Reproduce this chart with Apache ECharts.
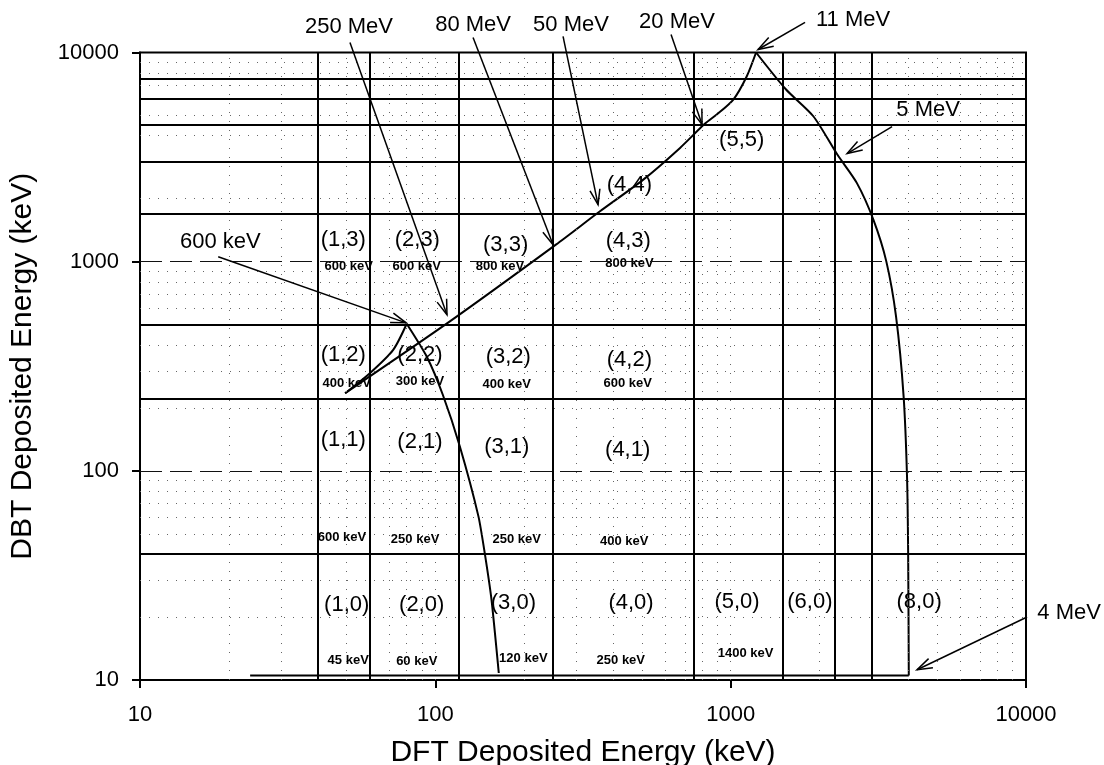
<!DOCTYPE html>
<html>
<head>
<meta charset="utf-8">
<script src="https://cdn.jsdelivr.net/npm/echarts@6/dist/echarts.min.js"></script>
<style>
html,body{margin:0;padding:0;background:#fff;}
#c{width:1104px;height:765px;}
</style>
</head>
<body>
<div id="c"></div>
<script>
// ---------- axis text ----------
const xTickLabels = ['10', '100', '1000', '10000'];
const yTickLabels = ['10', '100', '1000', '10000'];
const xAxisTitle = 'DFT Deposited Energy (keV)';
const yAxisTitle = 'DBT Deposited Energy (keV)';

// ---------- bin boundaries / grid lines (keV) ----------
const binEdgesX = [40, 60, 120, 250, 750, 1500, 2250, 3000];
const binEdgesY = [40, 220, 500, 1700, 3000, 4500, 6000, 7500];
const decadeLinesY = [100, 1000];
const minorLinesX = [20, 30, 50, 70, 80, 90, 100, 200, 300, 400, 500, 600, 700, 800, 900, 1000, 2000, 4000, 5000, 6000, 7000, 8000, 9000];
const minorLinesY = [20, 30, 50, 60, 70, 80, 90, 200, 300, 400, 600, 700, 800, 900, 2000, 4000, 5000, 7000, 8000, 9000];

// ---------- curves (DFT keV, DBT keV) ----------
// high-energy track: rising branch up to the 11 MeV turning point
const riseX = [49.5, 112, 256, 361, 506, 674, 819, 897, 1021, 1134, 1219];
const riseY = [235, 518, 1206, 1741, 2467, 3499, 4571, 5050, 5957, 7701, 10000];
// falling branch from 11 MeV down to 4 MeV
const fallX = [1219, 1540, 1905, 2297, 2673, 3042, 3365, 3630, 3851, 3956, 3990, 4010];
const fallY = [10000, 6653, 4957, 3251, 2381, 1588, 1003, 547, 227, 92.6, 40, 10.5];
// low-energy branch up to the 600 keV turning point, then down
const lowUpX = [49.5, 60, 72, 80];
const lowUpY = [235, 293, 379, 505];
const lowDownX = [80, 93.5, 106, 121, 140, 147, 155, 164];
const lowDownY = [505, 352, 231, 131, 60.4, 40.4, 24.1, 10.8];
const floorX = [23.6, 4010];
const floorY = [10.5, 10.5];

// ---------- cell names ----------
const cellNames = ['(1,3)', '(2,3)', '(3,3)', '(4,3)', '(1,2)', '(2,2)', '(3,2)', '(4,2)', '(1,1)', '(2,1)', '(3,1)', '(4,1)', '(1,0)', '(2,0)', '(3,0)', '(4,0)', '(5,0)', '(6,0)', '(8,0)', '(5,5)', '(4,4)'];
const cellX = [48.8, 86.9, 173, 450, 48.8, 88.7, 176.6, 454, 48.8, 88.7, 174.5, 448, 50.1, 89.9, 183.7, 460, 1051, 1854, 4345, 1090, 454];
const cellY = [1274, 1274, 1206, 1251, 359, 359, 352, 340, 140.7, 138.1, 130.7, 126, 22.85, 22.85, 23.3, 23.4, 23.7, 23.7, 23.7, 3834, 2336];

// ---------- cell thresholds ----------
const thresholdText = ['600 keV', '600 keV', '800 keV', '800 keV', '400 keV', '300 keV', '400 keV', '600 keV', '600 keV', '250 keV', '250 keV', '400 keV', '45 keV', '60 keV', '120 keV', '250 keV', '1400 keV'];
const thresholdX = [50.9, 86.5, 165.6, 454, 50.1, 88.7, 174.5, 448, 48.3, 85.4, 188.7, 436, 50.7, 86.5, 198.6, 424.6, 1124];
const thresholdY = [949.5, 949.5, 949.5, 985.8, 262.8, 267.5, 257.9, 262.8, 48.2, 46.8, 46.8, 45.9, 12.46, 12.24, 12.7, 12.46, 13.4];

// ---------- callouts (label position, arrow start, arrow tip) ----------
const calloutText = ['250 MeV', '80 MeV', '50 MeV', '20 MeV', '11 MeV', '5 MeV', '4 MeV', '600 keV'];
const calloutLabelX = [51.0, 134.2, 288, 658, 2597, 4662, 13996, 18.7];
const calloutLabelY = [13315, 13610, 13610, 14060, 14380, 5335, 20.9, 1247];
const calloutFromX = [51.4, 134.2, 270.7, 628.3, 1786, 3520, 10085, 18.4];
const calloutFromY = [11163, 11800, 11930, 12190, 13920, 4425, 20.0, 1056];
const calloutToX = [109.5, 250.4, 355.6, 800, 1238, 2479, 4277, 79.6];
const calloutToY = [557.7, 1206, 1874, 4523, 10337, 3287, 11.2, 510];

// ---------- build chart ----------
const FONT = '"Liberation Sans", Arial, Helvetica, sans-serif';
const zip = (xs, ys) => xs.map((x, i) => [x, ys[i]]);
const tickLabel = (arr) => (v) => arr[Math.round(Math.log10(v)) - 1] || '';

const gridItems = [].concat(
  minorLinesX.map(v => ({ xAxis: v, lineStyle: { color: '#666', width: 1, type: [1, 8] } })),
  minorLinesY.map(v => ({ yAxis: v, lineStyle: { color: '#666', width: 1, type: [1, 8] } })),
  decadeLinesY.map(v => ({ yAxis: v, lineStyle: { color: '#111', width: 1.2, type: [22, 8] } })),
  binEdgesX.map(v => ({ xAxis: v, lineStyle: { color: '#000', width: 2, type: 'solid' } })),
  binEdgesY.map(v => ({ yAxis: v, lineStyle: { color: '#000', width: 2, type: 'solid' } }))
);

const chart = echarts.init(document.getElementById('c'), null, { renderer: 'canvas' });

const axisCommon = {
  type: 'log',
  logBase: 10,
  min: 10,
  max: 10000,
  nameLocation: 'middle',
  nameTextStyle: { fontFamily: FONT, fontSize: 30, color: '#000' },
  axisLine: { show: true, lineStyle: { color: '#000', width: 2 } },
  axisTick: { show: true, length: 8, lineStyle: { color: '#000', width: 2 } },
  splitLine: { show: false },
  minorTick: { show: false },
  minorSplitLine: { show: false }
};

const curve = (data, smooth) => ({
  type: 'line', data: data, symbol: 'none', silent: true, z: 3,
  smooth: smooth,
  lineStyle: { color: '#000', width: 2 }
});

const labelSeries = (data, fontSize, fontWeight) => ({
  type: 'scatter', silent: true, z: 4, symbolSize: 0,
  itemStyle: { color: '#000' },
  data: data,
  label: {
    show: true, position: 'inside', formatter: p => p.data[2],
    fontFamily: FONT, fontSize: fontSize, fontWeight: fontWeight,
    color: '#000', textBorderWidth: 0, textBorderColor: 'transparent', opacity: 1
  }
});

const option = {
  animation: false,
  backgroundColor: '#fff',
  grid: {
    left: 140, right: 78, top: 52.5, bottom: 85,
    outerBoundsMode: 'none', containLabel: false,
    show: true, borderColor: '#000', borderWidth: 2, backgroundColor: 'transparent'
  },
  xAxis: Object.assign({}, axisCommon, {
    name: xAxisTitle, nameGap: 58,
    axisLabel: { fontFamily: FONT, fontSize: 22, color: '#000', margin: 24, formatter: tickLabel(xTickLabels) }
  }),
  yAxis: Object.assign({}, axisCommon, {
    name: yAxisTitle, nameGap: 102,
    axisLabel: { fontFamily: FONT, fontSize: 22, color: '#000', margin: 21, formatter: tickLabel(yTickLabels) }
  }),
  series: [
    {
      type: 'line', data: [], silent: true, z: 1,
      markLine: { silent: true, symbol: ['none', 'none'], label: { show: false }, animation: false, data: gridItems }
    },
    curve(zip(floorX, floorY), false),
    curve(zip(riseX, riseY), 0.25),
    curve(zip(fallX, fallY), 0.25),
    curve(zip(lowUpX, lowUpY), 0.25),
    curve(zip(lowDownX, lowDownY), 0.2),
    labelSeries(cellX.map((x, i) => [x, cellY[i], cellNames[i]]), 22, 'normal'),
    labelSeries(thresholdX.map((x, i) => [x, thresholdY[i], thresholdText[i]]), 13, 'bold')
  ]
};

chart.setOption(option);

// callouts: positioned through the chart's own log scales
const px = (x, y) => chart.convertToPixel({ gridIndex: 0 }, [x, y]);
const graphics = [];
calloutText.forEach((t, i) => {
  const L = px(calloutLabelX[i], calloutLabelY[i]);
  const A = px(calloutFromX[i], calloutFromY[i]);
  const B = px(calloutToX[i], calloutToY[i]);
  graphics.push({
    type: 'text', x: L[0], y: L[1], silent: true, z: 10,
    style: { text: t, fill: '#000', font: '22px ' + FONT, align: 'center', verticalAlign: 'middle', textAlign: 'center', textVerticalAlign: 'middle' }
  });
  graphics.push({
    type: 'line', silent: true, z: 10,
    shape: { x1: A[0], y1: A[1], x2: B[0], y2: B[1] },
    style: { stroke: '#000', lineWidth: 1.5 }
  });
  const ang = Math.atan2(B[1] - A[1], B[0] - A[0]);
  const len = 16, spread = 0.32;
  const p1 = [B[0] - len * Math.cos(ang - spread), B[1] - len * Math.sin(ang - spread)];
  const p2 = [B[0] - len * Math.cos(ang + spread), B[1] - len * Math.sin(ang + spread)];
  graphics.push({
    type: 'polyline', silent: true, z: 10,
    shape: { points: [p1, [B[0], B[1]], p2] },
    style: { stroke: '#000', lineWidth: 1.5, fill: null }
  });
});
chart.setOption({ graphic: graphics });
</script>
</body>
</html>
